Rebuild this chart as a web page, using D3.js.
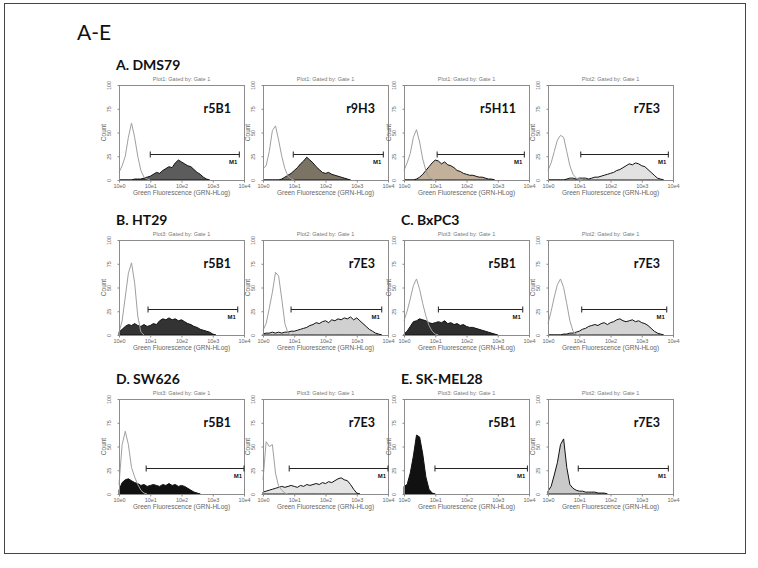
<!DOCTYPE html>
<html><head><meta charset="utf-8">
<script src="https://cdn.jsdelivr.net/npm/d3@7"></script>
<style>body{margin:0;background:#fff}svg{display:block}</style>
</head><body><svg id="c" width="758" height="568"></svg>
<script>
// ---------- data ----------
const figureTitle = "A-E";
const groupLabels = ["A. DMS79", "B. HT29", "C. BxPC3", "D. SW626", "E. SK-MEL28"];
const xTickValues = [1, 10, 100, 1000, 10000];
const xTickLabels = ["10e0", "10e1", "10e2", "10e3", "10e4"];
const yTickValues = [0, 25, 50, 75, 100];
const xAxisTitle = "Green Fluorescence (GRN-HLog)";
const yAxisTitle = "Count";
const binStep = 0.1; // decades per histogram bin, starting at 10e0

// control (isotype) histograms, counts per bin
const dms79_r5B1_ctrl  = [8,15,25,45,60,45,25,10,3,1,0];
const dms79_r9H3_ctrl  = [12,15,30,52,57,42,25,12,4,1,0];
const dms79_r5H11_ctrl = [10,18,28,45,53,40,22,10,3,1,0];
const dms79_r7E3_ctrl  = [10,18,30,42,47,45,30,15,6,2,1,0];
const ht29_r5B1_ctrl   = [3,15,40,65,76,55,20,3,0];
const ht29_r7E3_ctrl   = [5,12,28,45,66,62,38,12,2,0];
const bxpc3_r5B1_ctrl  = [15,25,38,52,59,48,33,20,10,4,1,0];
const bxpc3_r7E3_ctrl  = [12,25,40,53,59,50,33,15,4,1,0];
const sw626_r5B1_ctrl  = [10,52,66,52,28,18,10,4,1,0];
const sw626_r7E3_ctrl  = [15,55,50,52,22,8,4,1,0];
const skmel28_r5B1_ctrl = [];
const skmel28_r7E3_ctrl = [];

// antibody-stained histograms, counts per bin
const dms79_r5B1  = [0,0,0,0,0,1,1,1,2,3,4,6,8,7,10,12,14,13,18,21,19,17,15,14,11,8,6,3,1,0];
const dms79_r9H3  = [0,0,0,0,0,0,1,3,5,7,10,13,17,20,24,21,18,14,11,8,7,8,6,5,4,3,2,1,0];
const dms79_r5H11 = [0,0,0,0,1,3,6,10,14,18,21,20,17,19,16,15,13,10,9,7,6,5,5,4,3,3,2,1,1,0];
const dms79_r7E3  = [0,0,0,0,0,0,1,2,2,1,2,2,2,1,2,3,3,4,5,6,7,8,10,11,13,15,17,16,18,17,15,14,11,8,5,2,1,0];
const ht29_r5B1   = [3,6,9,11,10,12,10,9,11,9,10,12,11,15,17,16,18,16,17,15,16,14,12,11,9,8,6,5,4,3,1,0];
const ht29_r7E3   = [1,2,2,3,2,3,2,3,3,4,4,5,6,7,8,10,11,13,12,14,15,13,16,15,17,16,18,17,19,16,18,15,12,9,6,4,2,1,0];
const bxpc3_r5B1  = [1,4,9,14,15,17,16,15,13,12,13,14,13,15,12,13,11,12,10,11,9,8,8,7,6,5,4,3,2,1,0];
const bxpc3_r7E3  = [0,0,0,0,0,1,1,2,2,3,4,6,7,9,10,11,10,12,13,11,13,14,16,17,15,14,15,16,14,15,13,12,10,7,4,2,1,0];
const sw626_r5B1  = [4,12,15,16,14,12,11,9,10,8,9,10,9,8,10,9,11,9,10,8,9,8,6,4,2,1,0];
const sw626_r7E3  = [2,3,4,5,6,7,8,7,8,9,8,7,9,8,10,9,10,11,10,12,11,13,12,14,16,17,15,14,10,5,1,0];
const skmel28_r5B1 = [8,10,22,40,62,60,42,18,5,1,0];
const skmel28_r7E3 = [3,8,20,33,52,58,28,10,6,4,3,3,2,2,2,2,1,1,1,0];

// marker M1 gate (fluorescence start, end) and level (count)
const gateStart = [10, 9.3, 11.5, 11.2,  8.5, 7.9, 12.6, 12.0,  7.4, 6.9, 9.8, 9.3];
const gateEnd   = [7080, 7080, 7080, 7080,  6310, 6310, 6310, 6310,  10000, 10000, 8900, 7080];
const gateLevel = 27;

const antibodies = ["r5B1","r9H3","r5H11","r7E3","r5B1","r7E3","r5B1","r7E3","r5B1","r7E3","r5B1","r7E3"];
const plotNames  = ["Plot1","Plot1","Plot1","Plot2","Plot3","Plot2","Plot3","Plot2","Plot3","Plot3","Plot3","Plot2"];
const fills = ["#5c5c5c","#7b7364","#c3b09a","#e2e2e2","#333333","#d0d0d0","#2e2e2e","#d3d3d3","#111111","#e4e4e4","#111111","#c9c9c9"];

const ctrlSeries = [dms79_r5B1_ctrl, dms79_r9H3_ctrl, dms79_r5H11_ctrl, dms79_r7E3_ctrl,
  ht29_r5B1_ctrl, ht29_r7E3_ctrl, bxpc3_r5B1_ctrl, bxpc3_r7E3_ctrl,
  sw626_r5B1_ctrl, sw626_r7E3_ctrl, skmel28_r5B1_ctrl, skmel28_r7E3_ctrl];
const sampleSeries = [dms79_r5B1, dms79_r9H3, dms79_r5H11, dms79_r7E3,
  ht29_r5B1, ht29_r7E3, bxpc3_r5B1, bxpc3_r7E3,
  sw626_r5B1, sw626_r7E3, skmel28_r5B1, skmel28_r7E3];

// ---------- layout ----------
const colLeft = [119, 263, 404, 548];
const rowTop = [85, 240, 399];
const boxW = 125, boxH = 95;
const groupPos = [[0,0],[1,0],[1,2],[2,0],[2,2]]; // row, col

const svg = d3.select("#c");
svg.append("rect").attr("x", 4.5).attr("y", 3.5).attr("width", 741).attr("height", 550)
  .attr("fill", "none").attr("stroke", "#444").attr("stroke-width", 1);

svg.append("text").attr("x", 77).attr("y", 40).text(figureTitle)
  .attr("font-family", "Lato, 'Open Sans', sans-serif").attr("font-size", 21).attr("fill", "#111");

groupLabels.forEach((g, i) => {
  const [r, c] = groupPos[i];
  svg.append("text").attr("x", colLeft[c] - 3).attr("y", rowTop[r] - 15).text(g)
    .attr("font-family", "Lato, 'Open Sans', sans-serif").attr("font-weight", "bold")
    .attr("font-size", 14).attr("fill", "#111");
});

const tiny = "'Liberation Sans', Arial, sans-serif";

sampleSeries.forEach((sample, i) => {
  const r = Math.floor(i / 4), c = i % 4;
  const L = colLeft[c], T = rowTop[r];
  const x = d3.scaleLog().domain([1, 10000]).range([L, L + boxW]);
  const y = d3.scaleLinear().domain([0, 100]).range([T + boxH, T]);
  const g = svg.append("g");

  const toPts = arr => arr.map((v, k) => [Math.pow(10, k * binStep), v]);

  // sample filled histogram
  const area = d3.area().x(d => x(d[0])).y0(y(0)).y1(d => y(d[1]));
  g.append("path").datum(toPts(sample)).attr("d", area)
    .attr("fill", fills[i]).attr("stroke", "#111").attr("stroke-width", 1);

  // control outline
  const ctrl = ctrlSeries[i];
  if (ctrl.length) {
    const line = d3.line().x(d => x(d[0])).y(d => y(d[1]));
    g.append("path").datum(toPts(ctrl)).attr("d", line)
      .attr("fill", "none").attr("stroke", "#a0a0a0").attr("stroke-width", 1);
  }

  // box
  g.append("rect").attr("x", L + 0.5).attr("y", T + 0.5).attr("width", boxW).attr("height", boxH)
    .attr("fill", "none").attr("stroke", "#8c8c8c").attr("stroke-width", 1);

  // x axis
  const xa = g.append("g").attr("transform", `translate(0,${T + boxH + 0.5})`)
    .call(d3.axisBottom(x).tickValues(xTickValues).tickSize(2).tickPadding(2)
      .tickFormat((d, k) => xTickLabels[k]));
  xa.select(".domain").remove();
  xa.selectAll("line").attr("stroke", "#888");
  xa.selectAll("text").attr("font-family", tiny).attr("font-size", 5.5).attr("fill", "#666");

  // y axis
  const ya = g.append("g").attr("transform", `translate(${L + 0.5},0)`)
    .call(d3.axisLeft(y).tickValues(yTickValues).tickSize(2));
  ya.select(".domain").remove();
  ya.selectAll("line").attr("stroke", "#888");
  ya.selectAll("text").attr("transform", "rotate(-90)").attr("x", 0).attr("y", -9).attr("dy", 0)
    .attr("text-anchor", "middle").attr("font-family", tiny).attr("font-size", 5.5).attr("fill", "#666");

  g.append("text").attr("transform", `translate(${L - 13},${T + boxH / 2}) rotate(-90)`)
    .attr("text-anchor", "middle").text(yAxisTitle)
    .attr("font-family", tiny).attr("font-size", 6.5).attr("fill", "#666");

  g.append("text").attr("x", L + boxW / 2).attr("y", T + boxH + 15).attr("text-anchor", "middle")
    .text(xAxisTitle).attr("font-family", tiny).attr("font-size", 6.5).attr("fill", "#666");

  g.append("text").attr("x", L + boxW / 2).attr("y", T - 4).attr("text-anchor", "middle")
    .text(plotNames[i] + ":  Gated by: Gate 1").attr("font-family", tiny).attr("font-size", 5.5).attr("fill", "#777");

  // antibody label
  g.append("text").attr("x", L + boxW - 13).attr("y", T + 28).attr("text-anchor", "end")
    .text(antibodies[i]).attr("font-family", "Lato, 'Open Sans', sans-serif")
    .attr("font-weight", "bold").attr("font-size", 12.5).attr("fill", "#111");

  // M1 gate
  const gy = Math.round(y(gateLevel)) + 0.5;
  const x1 = x(gateStart[i]), x2 = x(gateEnd[i]);
  g.append("line").attr("x1", x1).attr("x2", x2).attr("y1", gy).attr("y2", gy)
    .attr("stroke", "#222").attr("stroke-width", 1);
  [x1, x2].forEach(xx => g.append("line").attr("x1", xx).attr("x2", xx)
    .attr("y1", gy - 3).attr("y2", gy + 3).attr("stroke", "#222").attr("stroke-width", 1));
  g.append("text").attr("x", x2 - 2).attr("y", gy + 9).attr("text-anchor", "end").text("M1")
    .attr("font-family", tiny).attr("font-weight", "bold").attr("font-size", 6).attr("fill", "#111");
});
</script></body></html>
